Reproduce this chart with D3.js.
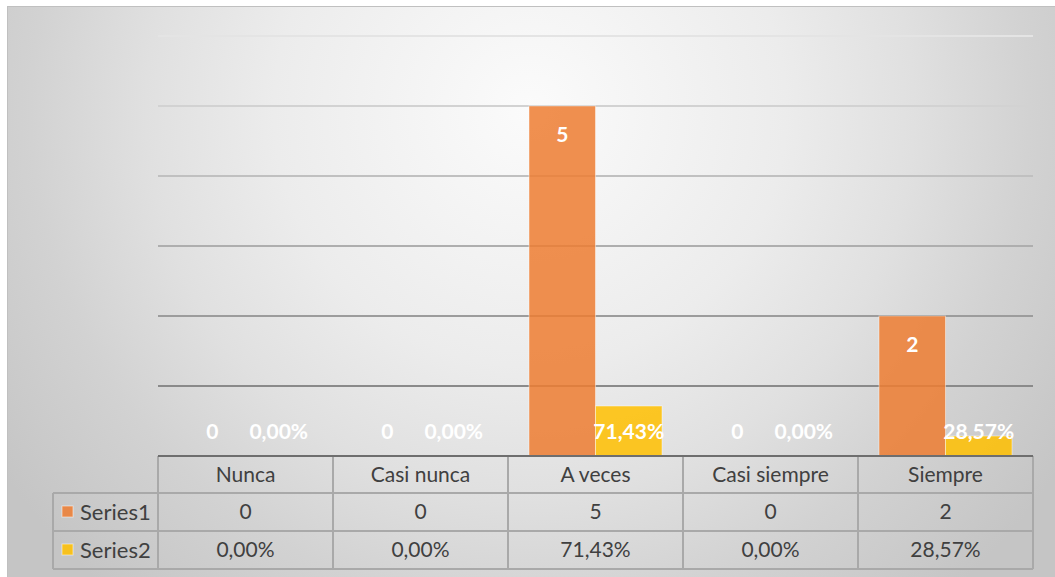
<!DOCTYPE html>
<html><head><meta charset="utf-8">
<script src="https://cdn.jsdelivr.net/npm/d3@7"></script>
<style>html,body{margin:0;padding:0;background:#fff;overflow:hidden}</style>
</head><body>
<svg id="c" width="1055" height="577"></svg>
<script>
const categories = ["Nunca","Casi nunca","A veces","Casi siempre","Siempre"];
const series1 = [0,0,5,0,2];
const series2 = [0,0,0.7143,0,0.2857];
const series1Labels = ["0","0","5","0","2"];
const series2Labels = ["0,00%","0,00%","71,43%","0,00%","28,57%"];
const seriesNames = ["Series1","Series2"];
const yTicks = [0,1,2,3,4,5,6];

(function(){
const colors = ["#ED7D31","#FFC000"];
const svg = d3.select("#c");
const font = "Lato, 'Open Sans', sans-serif";
const fs = 21;

const defs = svg.append("defs");
const rg = defs.append("radialGradient").attr("id","bg")
  .attr("gradientUnits","userSpaceOnUse").attr("cx",530).attr("cy",110).attr("r",640);
[[0,"#fbfbfb"],[0.4,"#ececec"],[0.6,"#e0e0e0"],[0.78,"#d2d2d2"],[1,"#c5c5c5"]]
  .forEach(([o,c])=>rg.append("stop").attr("offset",o).attr("stop-color",c));

svg.append("rect").attr("x",7.5).attr("y",6.5).attr("width",1100).attr("height",620)
  .attr("fill","url(#bg)").attr("stroke","#c0c0c0").attr("stroke-width",1);

const pLeft=158, pRight=1033, pTop=36, base=456;
const y = d3.scaleLinear().domain([0,6]).range([base,pTop]);
const x = d3.scaleBand().domain(categories).range([pLeft,pRight]).paddingInner(0.24).paddingOuter(0.12);
const xs = d3.scaleBand().domain(seriesNames).range([0,x.bandwidth()]);
const cat = d3.scaleBand().domain(categories).range([pLeft,pRight]);

// gridlines
const gcol = d3.scaleLinear().domain([36,386]).range(["#e4e4e4","#8a8a8a"]).interpolate(d3.interpolateRgb);
svg.append("g").selectAll("line").data(yTicks.filter(t=>t>0)).join("line")
  .attr("x1",pLeft).attr("x2",pRight).attr("y1",d=>y(d)).attr("y2",d=>y(d))
  .attr("stroke",d=>gcol(y(d))).attr("stroke-width",2);

// bars
const data = [series1, series2];
data.forEach((vals,si)=>{
  svg.append("g").selectAll("rect").data(vals).join("rect")
    .attr("x",(d,i)=>x(categories[i])+xs(seriesNames[si]))
    .attr("width",xs.bandwidth())
    .attr("y",d=>y(d)).attr("height",d=>base-y(d))
    .attr("fill",colors[si]).attr("fill-opacity",0.85)
    .attr("stroke","rgba(255,255,255,0.45)").attr("stroke-width",1);
});

// data labels
const lblG = svg.append("g").attr("font-family",font).attr("font-weight","bold")
  .attr("font-size",fs).attr("fill","#fff").attr("text-anchor","middle");
series1.forEach((d,i)=>{
  const cy = Math.min(y(d)+29, base-24);
  lblG.append("text").attr("x",x(categories[i])+xs("Series1")+xs.bandwidth()/2)
    .attr("y",cy).attr("dy","0.35em").text(series1Labels[i]);
});
series2.forEach((d,i)=>{
  lblG.append("text").attr("x",x(categories[i])+xs("Series2")+xs.bandwidth()/2)
    .attr("y",base-24).attr("dy","0.35em").text(series2Labels[i]);
});

// data table
const rowsY=[456,493,531,569];
const tg = svg.append("g");
const lineC="#a9a9a9";
[493,531,569].forEach(yy=>tg.append("line").attr("x1",53).attr("x2",pRight).attr("y1",yy).attr("y2",yy).attr("stroke",lineC).attr("stroke-width",2));
const vx = categories.map(c=>cat(c)).concat([pRight]);
vx.forEach(v=>tg.append("line").attr("x1",v).attr("x2",v).attr("y1",456).attr("y2",569).attr("stroke",lineC).attr("stroke-width",2));
tg.append("line").attr("x1",53).attr("x2",53).attr("y1",493).attr("y2",569).attr("stroke",lineC).attr("stroke-width",2);
// baseline
svg.append("line").attr("x1",pLeft).attr("x2",pRight).attr("y1",base).attr("y2",base).attr("stroke","#6e6e6e").attr("stroke-width",2);

const txt = svg.append("g").attr("font-family",font).attr("font-size",fs).attr("fill","#404040").attr("text-anchor","middle");
categories.forEach((c,i)=>{
  const cx = cat(c)+cat.bandwidth()/2;
  txt.append("text").attr("x",cx).attr("y",(rowsY[0]+rowsY[1])/2).attr("dy","0.35em").text(c);
  txt.append("text").attr("x",cx).attr("y",(rowsY[1]+rowsY[2])/2).attr("dy","0.35em").text(series1Labels[i]);
  txt.append("text").attr("x",cx).attr("y",(rowsY[2]+rowsY[3])/2).attr("dy","0.35em").text(series2Labels[i]);
});
seriesNames.forEach((s,si)=>{
  const cy=(rowsY[si+1]+rowsY[si+2])/2;
  svg.append("rect").attr("x",62).attr("y",cy-6).attr("width",11).attr("height",11)
    .attr("fill",colors[si]).attr("fill-opacity",0.85).attr("stroke","rgba(255,255,255,0.5)");
  svg.append("text").attr("x",80).attr("y",cy).attr("dy","0.35em").attr("font-family",font)
    .attr("font-size",fs+1).attr("fill","#404040").text(s);
});
})();
</script>
</body></html>
